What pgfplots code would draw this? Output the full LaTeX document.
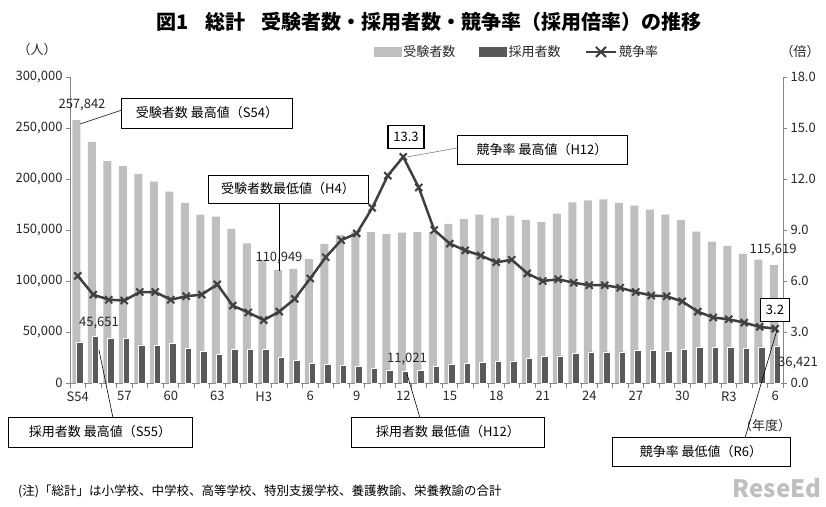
\documentclass[border=0pt]{standalone}
\usepackage{fontspec}
\setmainfont{Noto Sans CJK JP}
\usepackage{pgfplots}
\usepackage{pgfplotstable}
\pgfplotsset{compat=1.18}

\definecolor{colApp}{HTML}{BFBFBF}
\definecolor{colHire}{HTML}{595959}
\definecolor{colRate}{HTML}{404040}
\definecolor{colAxis}{HTML}{868686}
\definecolor{colTxt}{HTML}{262626}

% i = year index (S54 = 0 ... R6 = 45)
\pgfplotstableread{
i app hire rate
0 257842 40300 6.3
1 236500 45651 5.2
2 217500 44000 4.9
3 212500 43800 4.85
4 205000 37400 5.35
5 197500 36800 5.35
6 187500 38400 4.9
7 176500 34000 5.1
8 165000 31000 5.2
9 163000 28000 5.8
10 151000 32700 4.55
11 137000 32700 4.15
12 121000 32700 3.7
13 110949 25400 4.2
14 112000 22300 4.95
15 121500 19200 6.15
16 136500 18000 7.4
17 145000 17200 8.4
18 148500 16200 8.8
19 148000 14200 10.3
20 146000 12000 12.2
21 147500 11021 13.3
22 148000 12600 11.5
23 148000 16500 9.0
24 156000 18000 8.2
25 161000 19000 7.8
26 165000 20000 7.5
27 162000 21500 7.1
28 164000 21600 7.25
29 160000 24200 6.45
30 158000 25800 6.0
31 166000 26500 6.1
32 177000 29000 5.9
33 179000 30500 5.75
34 180000 30500 5.75
35 176500 30500 5.6
36 174000 32000 5.35
37 170000 32000 5.15
38 165000 31000 5.1
39 160000 32700 4.8
40 148500 34700 4.2
41 138500 34700 3.85
42 134500 34700 3.75
43 126500 33700 3.55
44 121000 35400 3.3
45 115619 36421 3.2
}\datatable

\newcommand{\fs}[1]{\fontsize{#1}{#1}\selectfont}

\begin{document}
\begin{tikzpicture}[x=1pt,y=1pt]
\useasboundingbox (0,0) rectangle (826,506);

\pgfplotsset{
  base/.style={
    at={(70pt,123pt)}, anchor=south west,
    scale only axis, width=713pt, height=306pt,
    xmin=-0.5, xmax=45.5,
    axis line style={colAxis, line width=0.8pt},
    tick style={colAxis, line width=0.8pt},
    tick align=outside,
    major tick length=4pt, minor tick length=5pt,
    ticklabel style={font=\fs{13}, text=colTxt},
    /pgf/number format/assume math mode=true,
  }
}

% bars, left axis
\begin{axis}[base,
  ymin=0, ymax=300000,
  axis y line*=left, axis x line*=bottom,
  ytick={0,50000,...,300000},
  scaled y ticks=false,
  yticklabel style={/pgf/number format/.cd, fixed, 1000 sep={,}},
  xtick={0,3,...,45},
  xticklabels={S54,57,60,63,H3,6,9,12,15,18,21,24,27,30,R3,6},
  major x tick style={draw=none},
  minor xtick={-0.5,0.5,...,45.5},
  xticklabel style={yshift=-1pt},
]
\addplot[ybar, bar width=8pt, bar shift=-1.5pt, fill=colApp, draw=none]
  table[x=i, y=app]{\datatable};
\addplot[ybar, bar width=6.5pt, bar shift=2pt, fill=colHire, draw=white, line width=0.7pt]
  table[x=i, y=hire]{\datatable};
\end{axis}

% competition rate, right axis
\begin{axis}[base,
  ymin=0, ymax=18,
  axis y line*=right, axis x line=none,
  ytick={0,3,...,18},
  yticklabel style={/pgf/number format/.cd, fixed, fixed zerofill, precision=1},
  legend style={at={(0.627,1.082)}, anchor=center, draw=none, fill=none,
    font=\fs{13}, text=colTxt, legend columns=3,
    /tikz/every even column/.append style={column sep=22pt},
    /tikz/every odd column/.append style={column sep=0pt},
    inner xsep=0pt},
  legend cell align=left,
]
\addlegendimage{legend image code/.code={\fill[colApp] (0pt,-4.5pt) rectangle (27pt,4.5pt);}}
\addlegendentry{受験者数}
\addlegendimage{legend image code/.code={\fill[colHire] (0pt,-4.5pt) rectangle (27pt,4.5pt);}}
\addlegendentry{採用者数}
\addplot[colRate, line width=2.5pt, mark=x, mark size=5pt, mark options={line width=2pt},
  legend image code/.code={
    \draw[colRate, line width=2.5pt] (0pt,0pt) -- (30pt,0pt);
    \draw[colRate, line width=2pt] (10pt,-5pt) -- (20pt,5pt) (10pt,5pt) -- (20pt,-5pt);}]
  table[x=i, y=rate]{\datatable};
\addlegendentry{競争率}
\end{axis}

% title and axis units
\node[font=\fs{20}\bfseries] at (429,484) {図1\hspace{0.8em}総計\hspace{0.8em}受験者数・採用者数・競争率（採用倍率）の推移};
\node[font=\fs{13}, text=colTxt] at (37,456) {（人）};
\node[font=\fs{13}, text=colTxt] at (800,454) {（倍）};
\node[font=\fs{13}, text=colTxt] at (765,80) {（年度）};

% annotations
\tikzset{ann/.style={draw=black, line width=0.7pt, fill=white, font=\fs{13}, inner sep=0pt},
         val/.style={font=\fs{13}, text=colTxt, inner sep=0pt},
         lead/.style={black, line width=0.6pt}}

\draw[lead] (80,382) -- (122,396);
\node[val] at (82,401) {257,842};
\node[ann, minimum width=171pt, minimum height=30pt] at (207,393) {受験者数 最高値（S54）};

\draw[lead] (279,303) -- (279,235);
\node[val] at (279,248) {110,949};
\node[ann, minimum width=160pt, minimum height=28pt] at (288,317) {受験者数最低値（H4）};

\draw[lead, gray] (457,358) -- (407,349);
\node[ann, line width=1.5pt, minimum width=36pt, minimum height=23pt] at (406,369) {13.3};
\node[ann, minimum width=170pt, minimum height=29pt] at (542,356) {競争率 最高値（H12）};

\node[val] at (773,256) {115,619};
\node[val] at (798,143) {36,421};

\draw[lead] (99,156) -- (113,88);
\node[val] at (99,183) {45,651};
\node[ann, minimum width=184pt, minimum height=30pt] at (100,74) {採用者数 最高値（S55）};

\draw[lead] (407,132) -- (420,88);
\node[val] at (407,147) {11,021};
\node[ann, minimum width=193pt, minimum height=30pt] at (448,74) {採用者数 最低値（H12）};

\draw[lead] (777,176) -- (745,68);
\node[ann, line width=1.5pt, minimum width=29pt, minimum height=23pt] at (775,196) {3.2};
\node[ann, minimum width=178pt, minimum height=29pt] at (701,54) {競争率 最低値（R6）};

% note and watermark
\node[font=\fs{12.5}, anchor=west, inner sep=0pt] at (18,15) {(注)「総計」は小学校、中学校、高等学校、特別支援学校、養護教諭、栄養教諭の合計};
\node[font=\fs{24}\bfseries, text=black!25, inner sep=0pt] at (777,18) {ReseEd};
\end{tikzpicture}
\end{document}
